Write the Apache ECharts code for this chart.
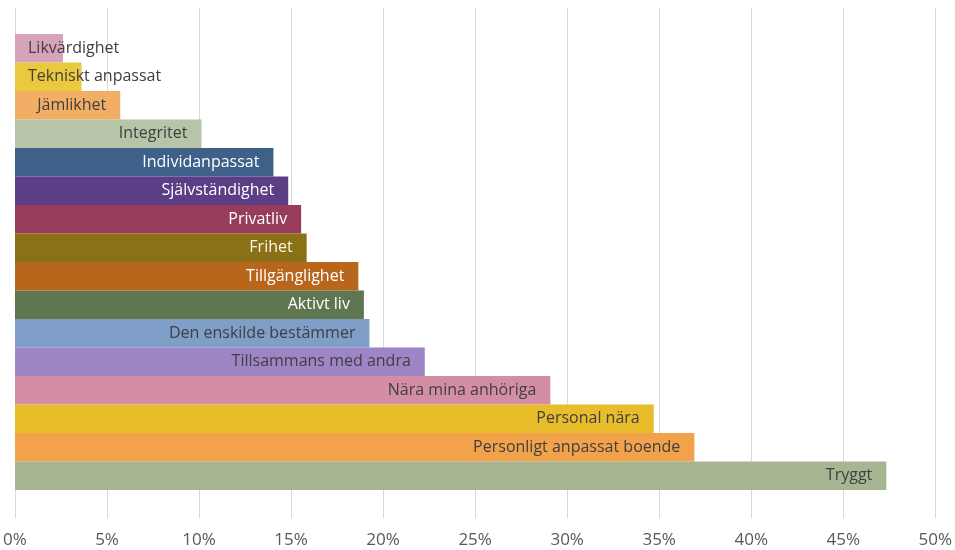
<!DOCTYPE html>
<html>
<head>
<meta charset="utf-8">
<script src="https://cdn.jsdelivr.net/npm/echarts@6/dist/echarts.min.js"></script>
<style>html,body{margin:0;padding:0;background:#fff}#c{width:955px;height:550px}</style>
</head>
<body>
<div id="c"></div>
<script>
const categories = ["Likvärdighet","Tekniskt anpassat","Jämlikhet","Integritet","Individanpassat","Självständighet","Privatliv","Frihet","Tillgänglighet","Aktivt liv","Den enskilde bestämmer","Tillsammans med andra","Nära mina anhöriga","Personal nära","Personligt anpassat boende","Tryggt"];
const values = [2.6, 3.6, 5.7, 10.1, 14.0, 14.8, 15.5, 15.8, 18.6, 18.9, 19.2, 22.2, 29.0, 34.6, 36.8, 47.2];
const barColors = ["#d7a3ba","#e9c93d","#f3ae66","#b6c4a7","#3f6089","#5b3e86","#973d5b","#8a7016","#b8661b","#5f7651","#7f9ec8","#9e85c5","#d38ea6","#e7bd2c","#f1a24b","#a6b693"];
const labelColors = ["#404040","#404040","#404040","#404040","#ffffff","#ffffff","#ffffff","#fdf6e0","#ffffff","#ffffff","#404040","#404040","#404040","#404040","#404040","#404040"];
const xTicks = [0,5,10,15,20,25,30,35,40,45,50];

const FONT = '"Open Sans", Lato, sans-serif';
const chart = echarts.init(document.getElementById('c'), null, {renderer:'canvas'});
const data = values.map((v,i)=>{
  const outside = i < 2;
  return {
    value: v,
    itemStyle: {color: barColors[i]},
    label: {
      show: true,
      position: outside ? 'insideLeft' : 'insideRight',
      distance: outside ? 13 : 14,
      color: labelColors[i],
      formatter: categories[i],
      fontFamily: FONT,
      fontSize: 16
    }
  };
});
chart.setOption({
  animation: false,
  grid: [
    {left: 15, right: 17, top: 8, bottom: 32, containLabel: false},
    {left: 15, right: 17, top: 34, bottom: 60, containLabel: false}
  ],
  xAxis: [
    {gridIndex: 0, type: 'value', min: xTicks[0], max: xTicks[xTicks.length-1], interval: 5,
     axisLine: {show: false}, axisTick: {show: false},
     splitLine: {show: true, lineStyle: {color: '#d9d9d9', width: 1}},
     axisLabel: {formatter: '{value}%', color: '#595959', fontFamily: FONT, fontSize: 17, margin: 14}},
    {gridIndex: 1, type: 'value', min: xTicks[0], max: xTicks[xTicks.length-1], interval: 5, show: false,
     splitLine: {show: false}}
  ],
  yAxis: [
    {gridIndex: 0, type: 'category', data: ['a'], show: false},
    {gridIndex: 1, type: 'category', data: categories, inverse: true, show: false}
  ],
  series: [{
    type: 'bar', xAxisIndex: 1, yAxisIndex: 1,
    barCategoryGap: '0%',
    data: data
  }]
});
</script>
</body>
</html>
